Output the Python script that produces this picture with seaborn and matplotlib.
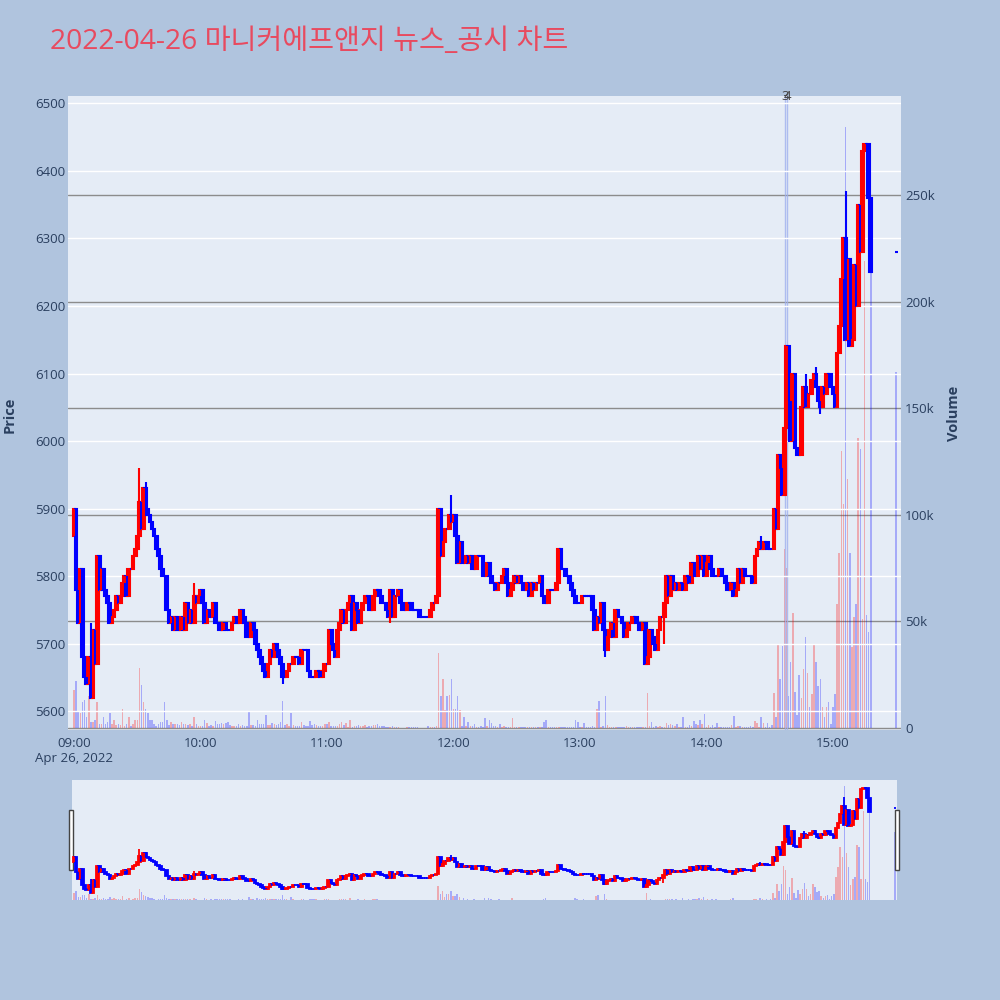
import numpy as np
import pandas as pd
import matplotlib
matplotlib.use("Agg")
import matplotlib.pyplot as plt
import matplotlib.transforms as mtransforms
from matplotlib.patches import Rectangle
import seaborn as sns

# ---- data (1-minute candles, 09:00 = minute 0) ----
title = "2022-04-26 마니커에프앤지 뉴스_공시 차트"
first_open = 5860

close_0900 = [5900, 5780, 5730, 5810, 5680, 5650, 5640, 5680, 5620, 5720,
              5670, 5830, 5780, 5810, 5780, 5770, 5760, 5730, 5740, 5750,
              5770, 5760, 5770, 5790, 5800, 5770, 5810, 5810, 5830, 5840,
              5860, 5910, 5870, 5930, 5900, 5890, 5880, 5870, 5860, 5840,
              5830, 5810, 5800, 5800, 5750, 5730, 5740, 5720, 5740, 5720,
              5720, 5740, 5720, 5760, 5730, 5750, 5730, 5770, 5760, 5770]
close_1000 = [5780, 5760, 5730, 5750, 5740, 5740, 5760, 5730, 5730, 5720,
              5720, 5730, 5720, 5720, 5720, 5730, 5740, 5730, 5730, 5750,
              5740, 5730, 5710, 5710, 5730, 5720, 5700, 5690, 5680, 5670,
              5660, 5650, 5670, 5690, 5680, 5700, 5690, 5680, 5670, 5650,
              5650, 5660, 5670, 5670, 5680, 5680, 5680, 5670, 5690, 5690,
              5690, 5660, 5650, 5650, 5650, 5660, 5660, 5650, 5660, 5670]
close_1100 = [5670, 5720, 5700, 5690, 5680, 5720, 5730, 5750, 5730, 5750,
              5760, 5770, 5720, 5760, 5750, 5730, 5750, 5760, 5770, 5770,
              5750, 5750, 5770, 5780, 5780, 5770, 5760, 5760, 5750, 5740,
              5780, 5740, 5770, 5770, 5780, 5760, 5750, 5750, 5760, 5760,
              5750, 5750, 5750, 5750, 5740, 5740, 5740, 5740, 5740, 5750,
              5760, 5760, 5770, 5900, 5830, 5850, 5870, 5870, 5890, 5880]
close_1200 = [5890, 5860, 5820, 5850, 5820, 5820, 5830, 5820, 5830, 5810,
              5810, 5830, 5830, 5830, 5800, 5800, 5820, 5800, 5790, 5790,
              5780, 5790, 5790, 5800, 5810, 5790, 5770, 5780, 5790, 5800,
              5790, 5800, 5790, 5780, 5780, 5790, 5770, 5790, 5780, 5790,
              5790, 5800, 5770, 5760, 5760, 5780, 5780, 5780, 5780, 5790,
              5840, 5810, 5810, 5800, 5800, 5790, 5780, 5770, 5760, 5760]
close_1300 = [5760, 5770, 5770, 5770, 5770, 5770, 5750, 5720, 5740, 5730,
              5760, 5720, 5690, 5710, 5720, 5730, 5710, 5750, 5740, 5740,
              5730, 5710, 5720, 5730, 5730, 5740, 5740, 5730, 5720, 5720,
              5730, 5670, 5680, 5720, 5710, 5700, 5690, 5720, 5740, 5740,
              5760, 5800, 5770, 5800, 5780, 5790, 5780, 5790, 5790, 5780,
              5800, 5800, 5790, 5820, 5800, 5800, 5830, 5810, 5830, 5800]
close_1400 = [5820, 5830, 5810, 5800, 5800, 5800, 5810, 5800, 5800, 5790,
              5780, 5780, 5790, 5770, 5780, 5810, 5790, 5810, 5800, 5800,
              5800, 5800, 5790, 5830, 5840, 5850, 5840, 5850, 5850, 5840,
              5840, 5840, 5900, 5870, 5980, 5960, 5920, 6020, 6140, 6060,
              6000, 6100, 5990, 5980, 5980, 6050, 6080, 6050, 6070, 6070,
              6090, 6100, 6080, 6060, 6050, 6080, 6070, 6100, 6100, 6080]
close_1500 = [6070, 6050, 6130, 6170, 6240, 6300, 6150, 6270, 6140, 6150,
              6260, 6200, 6350, 6280, 6430, 6440, 6440, 6360, 6250]

vol_0900 = [18, 22, 8, 7, 12, 13, 5, 15, 3, 3,
            4, 12, 2, 2, 5, 2, 3, 7, 2, 4,
            1.5, 2, 1.5, 9, 1, 2, 5, 1, 2, 4,
            4, 28, 20, 12, 9, 7, 4, 4, 2, 1,
            2, 3, 3, 12, 4, 1.5, 3, 2, 2, 2,
            1.5, 3, 2, 2, 1.5, 2, 1, 5, 2, 1]
vol_1000 = [1, 1, 4, 2.5, 1, 1.5, 1, 3.5, 2, 2,
            2.5, 2, 2.5, 3, 1.5, 1, 1, 1, 2, 1,
            1.5, 1, 1, 8, 1.5, 1.5, 1, 4, 2, 2,
            2, 6, 1.5, 1.5, 2.5, 2, 1.5, 2, 3, 12.5,
            1.5, 2, 1, 7, 1.5, 1, 1, 1, 3, 1.5,
            1, 1, 3.5, 1.5, 2, 1.5, 1, 1, 1, 2]
vol_1100 = [2, 3, 1, 1, 1, 1, 2, 3, 1.5, 2.5,
            0.5, 4, 0.5, 1, 1, 1.5, 1, 1, 1.5, 0.5,
            1, 1, 1.5, 1.5, 2, 1, 1, 1, 0.5, 0.5,
            0.5, 1, 0.5, 0.3, 0.3, 0.2, 0.2, 0.2, 0.3, 0.3,
            0.3, 0.3, 0.5, 0.3, 0.2, 0.2, 0.2, 0.2, 1, 0.5,
            0.5, 0.5, 1, 35, 15, 23, 8.5, 15, 15.5, 23]
vol_1200 = [9, 9, 15, 8.5, 1, 5, 1, 3, 1, 1,
            2, 0.5, 0.5, 1, 0.5, 4.5, 1, 4, 2.5, 1,
            1, 0.5, 2, 0.5, 1, 0.5, 0.5, 0.5, 4.5, 0.5,
            0.5, 0.5, 0.5, 0.5, 0.5, 0.5, 0.5, 0.5, 0.3, 0.3,
            0.3, 0.5, 0.5, 3, 4, 0.3, 0.5, 0.5, 0.3, 0.3,
            0.5, 0.3, 0.3, 0.3, 0.3, 0.3, 0.3, 0.5, 4, 3]
vol_1300 = [0.5, 0.5, 2.5, 0.5, 0.5, 0.5, 1, 0.5, 9, 12.5,
            0.5, 1, 15, 1.5, 0.3, 0.3, 0.5, 0.3, 0.3, 0.3,
            0.3, 0.3, 1, 0.3, 0.3, 0.3, 0.5, 0.3, 0.3, 0.3,
            0.3, 0.5, 16.5, 1, 3, 0.5, 1, 0.3, 1, 0.5,
            0.5, 2.5, 1.5, 2, 1.5, 1, 2, 0.5, 0.5, 5,
            0.5, 0.5, 1.5, 1, 3.5, 2, 1.5, 4, 2, 6.5]
vol_1400 = [0.5, 1.5, 0.5, 1.5, 0.5, 2.5, 0.5, 0.5, 0.5, 0.3,
            0.5, 0.3, 1.5, 5.5, 0.5, 1, 0.8, 0.3, 0.3, 0.3,
            0.3, 0.8, 0.3, 3.5, 2.5, 0.5, 5, 2.5, 0.5, 2.5,
            0.5, 1.5, 16.5, 5, 39, 23, 38.5, 84, 75, 15,
            31, 54, 17, 6, 25, 14, 27.5, 42.5, 26, 10,
            16, 39, 31, 19.5, 23, 10, 5, 10, 12, 2]
vol_1500 = [10, 16, 58, 82, 130, 105, 282, 117, 82, 38,
            52, 58, 136, 131, 51, 219, 53, 45, 215]

# wicks that stick out of the bodies
high_wick_minute = [1, 8, 31, 34, 57, 179, 252, 326, 347, 352, 366]
high_wick_price = [5900, 5730, 5960, 5940, 5790, 5920, 5730, 5860, 6100, 6110, 6370]
low_wick_minute = [99, 150, 252, 271, 280, 354]
low_wick_price = [5640, 5730, 5680, 5670, 5700, 6040]

# closing auction print at 15:30
auction_minute = 390
auction_price = 6280
auction_volume = 167

# news / disclosure markers
news_minute = [337.3, 338.4]
news_label = ["3", "4"]

tick_minutes = [0, 60, 120, 180, 240, 300, 360]
tick_labels = ["09:00\nApr 26, 2022", "10:00", "11:00", "12:00", "13:00", "14:00", "15:00"]

# ---- build table ----
closes = close_0900 + close_1000 + close_1100 + close_1200 + close_1300 + close_1400 + close_1500
volumes = vol_0900 + vol_1000 + vol_1100 + vol_1200 + vol_1300 + vol_1400 + vol_1500
opens = [first_open] + closes[:-1]
df = pd.DataFrame({"minute": np.arange(len(closes)), "open": opens,
                   "close": closes, "volume": volumes})
df = pd.concat([df, pd.DataFrame({"minute": [auction_minute], "open": [auction_price],
                                  "close": [auction_price], "volume": [auction_volume]})],
               ignore_index=True)
df["high"] = df[["open", "close"]].max(axis=1)
df["low"] = df[["open", "close"]].min(axis=1)
for m, p in zip(high_wick_minute, high_wick_price):
    df.loc[df.minute == m, "high"] = p
for m, p in zip(low_wick_minute, low_wick_price):
    df.loc[df.minute == m, "low"] = p

RED = "#FF0000"
BLUE = "#0000FF"
PLOT_BG = "#E5ECF6"
PAPER_BG = "#B0C4DE"
TEXT = "#2a3f5f"

sns.set_theme(style="white", rc={"axes.facecolor": PLOT_BG, "figure.facecolor": PAPER_BG})
plt.rcParams["font.family"] = ["Open Sans", "Noto Sans CJK KR", "DejaVu Sans"]


def draw_candles(axp, axv, data, body_w, lw, vol_w):
    inc = data["close"] > data["open"]
    colors = np.where(inc, RED, BLUE)
    axv.bar(data["minute"], data["volume"], width=vol_w, color=colors, alpha=0.28, linewidth=0)
    axp.vlines(data["minute"], data["low"], data["high"], colors=colors, lw=lw)
    axp.bar(data["minute"], (data["close"] - data["open"]).abs(),
            bottom=data[["open", "close"]].min(axis=1), width=body_w,
            color=colors, edgecolor=colors, linewidth=lw)


fig = plt.figure(figsize=(10, 10), dpi=100)

# main chart
ax = fig.add_axes([0.068, 0.270, 0.833, 0.634])
ax_vol = ax.twinx()
ax.set_zorder(ax_vol.get_zorder() + 1)
ax.patch.set_visible(False)
ax_vol.patch.set_visible(True)
ax_vol.patch.set_facecolor(PLOT_BG)

draw_candles(ax, ax_vol, df, body_w=1.3, lw=1.5, vol_w=0.7)
for m in news_minute:
    ax_vol.axvline(m, color="#9fb0ee", lw=1, alpha=0.8, zorder=3)
trans = mtransforms.blended_transform_factory(ax.transData, ax.transAxes)
for m, lab in zip(news_minute, news_label):
    ax.text(m, 1.0, lab, transform=trans, ha="center", va="center",
            fontsize=9.5, color="#444444", clip_on=False)

ax.set_xlim(-2.85, 392.3)
ax.set_ylim(5572, 6511)
ax_vol.set_ylim(-0.9, 296.4)

ax.set_yticks(range(5600, 6501, 100))
ax.yaxis.grid(True, color="white", lw=1)
ax.xaxis.grid(False)
ax_vol.set_yticks([0, 50, 100, 150, 200, 250])
ax_vol.set_yticklabels(["0", "50k", "100k", "150k", "200k", "250k"])
ax_vol.yaxis.grid(True, color="#8c8c8c", lw=1)
ax_vol.set_axisbelow(True)
ax.set_xticks(tick_minutes)
ax.set_xticklabels(tick_labels)
ax.tick_params(axis="x", length=0, pad=5, labelsize=9.5, labelcolor=TEXT)
ax.tick_params(axis="y", length=0, pad=2, labelsize=9.5, labelcolor=TEXT)
ax_vol.tick_params(axis="y", length=0, pad=3, labelsize=9.5, labelcolor=TEXT)
for a in (ax, ax_vol):
    sns.despine(ax=a, left=True, right=True, top=True, bottom=True)

fig.text(0.010, 0.585, "Price", rotation=90, ha="center", va="center",
         fontsize=10.5, fontweight="bold", color=TEXT)
fig.text(0.954, 0.587, "Volume", rotation=90, ha="center", va="center",
         fontsize=10.5, fontweight="bold", color=TEXT)
fig.text(0.05, 0.958, title, ha="left", va="center", fontsize=20.3, color="#E84A5F")

# range slider overview
ax_s = fig.add_axes([0.072, 0.100, 0.825, 0.120])
ax_sv = ax_s.twinx()
ax_s.set_zorder(ax_sv.get_zorder() + 1)
ax_s.patch.set_visible(False)
ax_sv.patch.set_visible(True)
ax_sv.patch.set_facecolor(PLOT_BG)
draw_candles(ax_s, ax_sv, df, body_w=1.2, lw=1.3, vol_w=0.7)
ax_s.set_xlim(-1, 391)
ax_s.set_ylim(5565, 6502)
ax_sv.set_ylim(0, 296.4)
for a in (ax_s, ax_sv):
    a.set_xticks([])
    a.set_yticks([])
    a.grid(False)
    sns.despine(ax=a, left=True, right=True, top=True, bottom=True)

for x0 in (0.0693, 0.8953):
    fig.add_artist(Rectangle((x0, 0.130), 0.0038, 0.060, transform=fig.transFigure,
                             facecolor="white", edgecolor="#444444", lw=1))

fig.savefig("out.png", dpi=100, facecolor=PAPER_BG)
